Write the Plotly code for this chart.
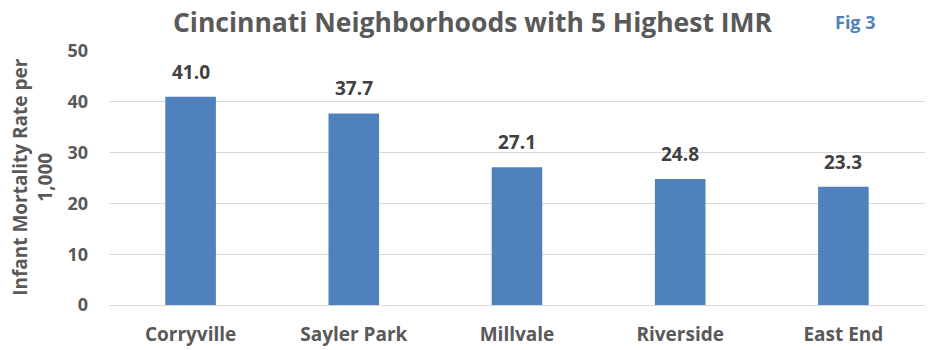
import plotly.graph_objects as go

categories = ["Corryville", "Sayler Park", "Millvale", "Riverside", "East End"]
values = [41.0, 37.7, 27.1, 24.8, 23.3]
tick_vals = [0, 10, 20, 30, 40, 50]

FONT = "Open Sans"
GRAY = "#595959"
BLUE = "#4F81BD"

fig = go.Figure()
fig.add_trace(go.Bar(
    x=categories, y=values,
    marker=dict(color=BLUE, line=dict(width=0)),
    width=0.31,
    hoverinfo="skip",
))

for c, v in zip(categories, values):
    fig.add_annotation(x=c, y=v, text=f"{v:.1f}", showarrow=False,
                       yshift=25, font=dict(family=FONT, size=19, color="#404040", weight="bold"))

fig.add_annotation(xref="paper", yref="paper", x=-0.093, y=0.505, xanchor="center", yanchor="middle",
                   text="Infant Mortality Rate per<br>1,000", textangle=-90,
                   showarrow=False, font=dict(family=FONT, size=19, color=GRAY, weight="bold"))
fig.add_annotation(xref="paper", yref="paper", x=0.915, y=1.17, xanchor="center",
                   text="Fig 3", showarrow=False,
                   font=dict(family=FONT, size=18, color=BLUE, weight="bold"))

fig.update_layout(
    width=945, height=350,
    margin=dict(l=109, r=20, t=51, b=45, autoexpand=False),
    paper_bgcolor="white", plot_bgcolor="white",
    title=dict(text="Cincinnati Neighborhoods with 5 Highest IMR",
               x=0.5, xanchor="center", y=0.935, yanchor="middle",
               font=dict(family=FONT, size=26.5, color=GRAY, weight="bold")),
    showlegend=False,
    xaxis=dict(showgrid=False, showline=True, linecolor="#D9D9D9", linewidth=1,
               ticks="", automargin=False,
               tickfont=dict(family=FONT, size=19, color=GRAY, weight="bold"),
               ticklabelstandoff=12),
    yaxis=dict(range=[0, 50], tickvals=tick_vals, showgrid=True, gridcolor="#D9D9D9",
               gridwidth=1, zeroline=False, ticks="", automargin=False,
               tickfont=dict(family=FONT, size=18, color=GRAY, weight="bold"),
               ticklabelstandoff=20),
)

fig.write_html("out.html")
